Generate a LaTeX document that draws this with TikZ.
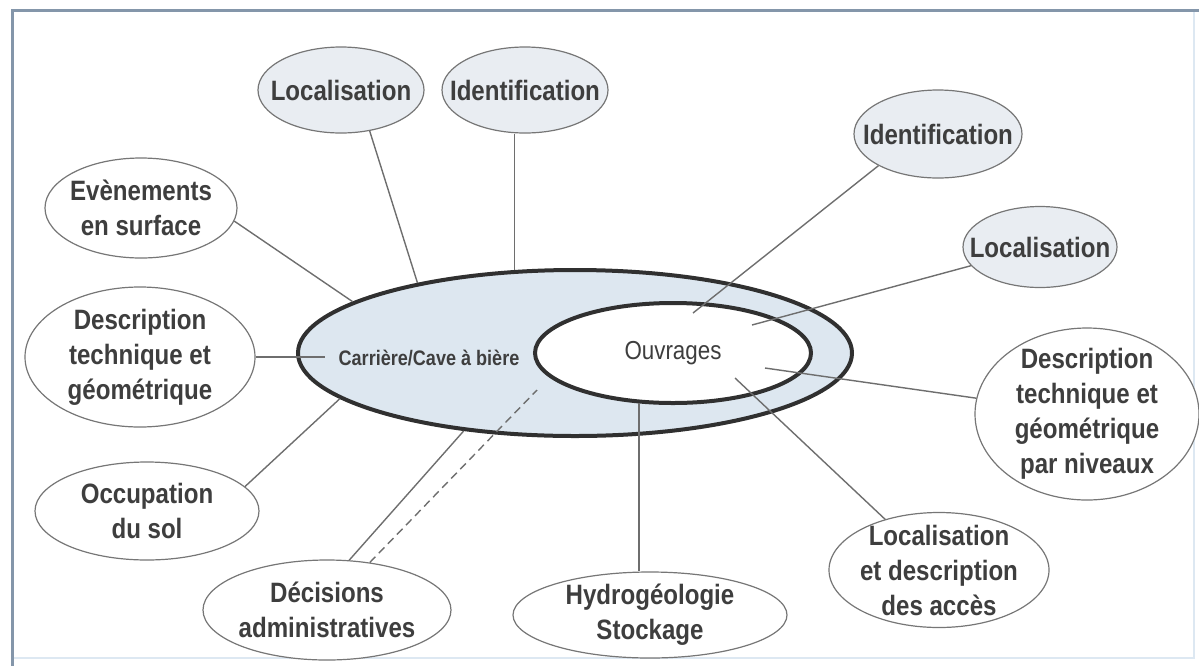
\documentclass[tikz,border=0pt]{standalone}
\usepackage{fontspec}
\setmainfont{Liberation Sans}[FakeStretch=0.86]
\usetikzlibrary{shapes.geometric}
\definecolor{frameblue}{HTML}{8496AA}
\definecolor{framelight}{HTML}{DDE8F2}
\definecolor{bubbleline}{HTML}{767676}
\definecolor{bubblefill}{HTML}{E9EDF2}
\definecolor{cavefill}{HTML}{DDE7F0}
\definecolor{ringline}{HTML}{303030}
\definecolor{labeltext}{HTML}{3E3E3E}
\definecolor{linkline}{HTML}{6E6E6E}

\tikzset{
    bubble/.style={ellipse, draw=bubbleline, line width=0.6pt, fill=white, inner sep=-10pt,
                   align=center, text=labeltext, font=\fontsize{14}{17.5}\selectfont\bfseries},
    greybubble/.style={bubble, fill=bubblefill},
    ring/.style={ellipse, draw=ringline, line width=2pt, inner sep=0pt},
    link/.style={draw=linkline, line width=0.7pt}
}

\begin{document}
\begin{tikzpicture}[x=0.5pt, y=-0.5pt]
    \useasboundingbox (0,0) rectangle (1199,665);
    \draw[framelight, line width=0.8pt] (14,658) -- (1194,658) -- (1194,12);
    \draw[frameblue, line width=1.5pt] (12,670) -- (12,10) -- (1205,10);

    \node[ring, fill=cavefill, minimum width=277pt, minimum height=83pt] (cave) at (575,353) {};
    \node[ring, fill=white, minimum width=138pt, minimum height=50pt,
          text=labeltext, font=\fontsize{13}{15}\selectfont] (ouvrages) at (673,353) {Ouvrages};
    \node[text=labeltext, font=\fontsize{10.5}{12}\selectfont\bfseries] (cavelabel) at (429,358)
      {Carrière/Cave à bière};

    \node[greybubble, minimum width=83pt, minimum height=43pt] (loctop) at (341,90) {Localisation};
    \node[greybubble, minimum width=83pt, minimum height=43pt] (idtop) at (525,90) {Identification};
    \node[greybubble, minimum width=84pt, minimum height=44pt] (idright) at (938,134) {Identification};
    \node[greybubble, minimum width=77pt, minimum height=40.5pt] (locright) at (1040,247) {Localisation};
    \node[bubble, minimum width=96pt, minimum height=50pt] (surface) at (141,208) {Evènements\\en surface};
    \node[bubble, minimum width=115pt, minimum height=70pt] (geomleft) at (140,357)
      {Description\\technique et\\géométrique};
    \node[bubble, minimum width=112pt, minimum height=49pt] (sol) at (147,511) {Occupation\\du sol};
    \node[bubble, minimum width=124pt, minimum height=50pt] (decisions) at (327,610)
      {Décisions\\administratives};
    \node[bubble, minimum width=137pt, minimum height=43pt] (hydro) at (650,615) {Hydrogéologie\\Stockage};
    \node[bubble, minimum width=110pt, minimum height=57.5pt] (acces) at (939,570)
      {Localisation\\et description\\des accès};
    \node[bubble, minimum width=112pt, minimum height=86pt] (niveaux) at (1087,414)
      {Description\\technique et\\géométrique\\par niveaux};

    \coordinate (geomend) at (325,357);
    \coordinate (dashend) at (537,390);
    \coordinate (accesend) at (735,378);
    \coordinate (niveauxend) at (765,368);
    \coordinate (locend) at (752,325);
    \coordinate (idend) at (693,313);

    \draw[link] (loctop.-55) -- (cave.156);
    \draw[link] (cave.126.5) -- (cave.126.5 |- idtop.south);
    \draw[link] (surface.-8) -- (cave.167);
    \draw[link] (geomleft.east) -- (geomend);
    \draw[link] (sol.14) -- (cave.191);
    \draw[link] (decisions.66) -- (cave.215);
    \draw[link, dash pattern=on 4pt off 2.5pt] (decisions.48) -- (dashend);
    \draw[link] (ouvrages.236) -- (ouvrages.236 |- hydro.north);
    \draw[link] (acces) -- (accesend);
    \draw[link] (niveaux) -- (niveauxend);
    \draw[link] (locright) -- (locend);
    \draw[link] (idright.208) -- (idend);
\end{tikzpicture}
\end{document}
